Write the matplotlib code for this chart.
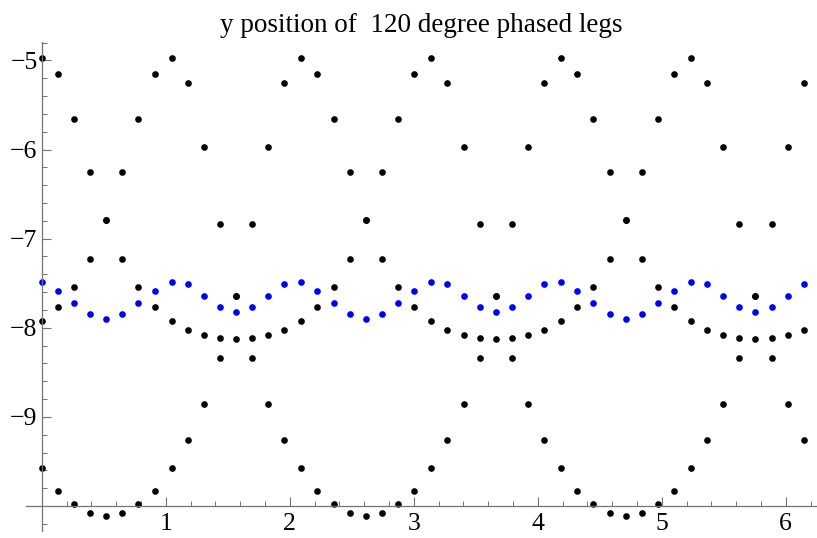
import matplotlib.pyplot as plt
from matplotlib.ticker import FixedLocator, MultipleLocator

plt.rcParams['font.family'] = ['Liberation Serif', 'DejaVu Serif']

# sample times (x)
t = [0.0, 0.13, 0.26, 0.39, 0.52, 0.65, 0.78, 0.91,
     1.047, 1.177, 1.307, 1.437, 1.567, 1.697, 1.827, 1.957,
     2.094, 2.224, 2.354, 2.484, 2.614, 2.744, 2.874, 3.004,
     3.142, 3.272, 3.402, 3.532, 3.662, 3.792, 3.922, 4.052,
     4.189, 4.319, 4.449, 4.579, 4.709, 4.839, 4.969, 5.099,
     5.236, 5.366, 5.496, 5.626, 5.756, 5.886, 6.016, 6.146]

# y position of each leg
leg1 = [-4.97, -5.15, -5.66, -6.25, -6.79, -7.23, -7.54, -7.77,
        -7.92, -8.03, -8.08, -8.11, -8.13, -8.11, -8.08, -8.03,
        -7.92, -7.77, -7.54, -7.23, -6.79, -6.25, -5.66, -5.15,
        -4.97, -5.25, -5.97, -6.84, -7.64, -8.34, -8.85, -9.26,
        -9.57, -9.83, -9.98, -10.08, -10.11, -10.08, -9.98, -9.83,
        -9.57, -9.26, -8.85, -8.34, -7.64, -6.84, -5.97, -5.25]
leg2 = [-7.92, -7.77, -7.54, -7.23, -6.79, -6.25, -5.66, -5.15,
        -4.97, -5.25, -5.97, -6.84, -7.64, -8.34, -8.85, -9.26,
        -9.57, -9.83, -9.98, -10.08, -10.11, -10.08, -9.98, -9.83,
        -9.57, -9.26, -8.85, -8.34, -7.64, -6.84, -5.97, -5.25,
        -4.97, -5.15, -5.66, -6.25, -6.79, -7.23, -7.54, -7.77,
        -7.92, -8.03, -8.08, -8.11, -8.13, -8.11, -8.08, -8.03]
leg3 = [-9.57, -9.83, -9.98, -10.08, -10.11, -10.08, -9.98, -9.83,
        -9.57, -9.26, -8.85, -8.34, -7.64, -6.84, -5.97, -5.25,
        -4.97, -5.15, -5.66, -6.25, -6.79, -7.23, -7.54, -7.77,
        -7.92, -8.03, -8.08, -8.11, -8.13, -8.11, -8.08, -8.03,
        -7.92, -7.77, -7.54, -7.23, -6.79, -6.25, -5.66, -5.15,
        -4.97, -5.25, -5.97, -6.84, -7.64, -8.34, -8.85, -9.26]
# average (blue)
avg = [-7.49, -7.59, -7.72, -7.85, -7.90, -7.85, -7.72, -7.59,
       -7.49, -7.51, -7.64, -7.77, -7.82, -7.77, -7.64, -7.51,
       -7.49, -7.59, -7.72, -7.85, -7.90, -7.85, -7.72, -7.59,
       -7.49, -7.51, -7.64, -7.77, -7.82, -7.77, -7.64, -7.51,
       -7.49, -7.59, -7.72, -7.85, -7.90, -7.85, -7.72, -7.59,
       -7.49, -7.51, -7.64, -7.77, -7.82, -7.77, -7.64, -7.51]

xticks = [1, 2, 3, 4, 5, 6]
yticks = [-9, -8, -7, -6, -5]

W, H = 817, 538
fig = plt.figure(figsize=(W / 100, H / 100), dpi=100)
ax = fig.add_axes([26 / W, 7 / H, (W - 26) / W, (531 - 41.7) / H])

for leg in (leg1, leg2, leg3):
    ax.plot(t, leg, 'o', color='black', markersize=4.8, markeredgewidth=0, clip_on=False)
ax.plot(t, avg, 'o', color='blue', markersize=4.8, markeredgewidth=0, clip_on=False)

ax.set_xlim(-0.1266, 6.252)
ax.set_ylim(-10.28, -4.79)

for s in ('top', 'right'):
    ax.spines[s].set_visible(False)
ax.spines['left'].set_position(('data', 0))
ax.spines['bottom'].set_position(('data', -10))
for s in ('left', 'bottom'):
    ax.spines[s].set_color('0.45')
    ax.spines[s].set_linewidth(0.9)

ax.xaxis.set_major_locator(FixedLocator(xticks))
ax.yaxis.set_major_locator(FixedLocator(yticks))
ax.xaxis.set_minor_locator(MultipleLocator(0.2))
ax.yaxis.set_minor_locator(MultipleLocator(0.2))
ax.tick_params(which='major', direction='in', length=6.5, width=0.8, color='0.45',
               labelsize=18.5, pad=3)
ax.tick_params(which='minor', direction='in', length=3.6, width=0.7, color='0.45')
ax.tick_params(axis='x', which='major', pad=5)

fig.text(421 / W, 1 - 32 / H, 'y position of  120 degree phased legs',
         ha='center', va='baseline', fontsize=19.5)

fig.savefig('out.png', dpi=100)
